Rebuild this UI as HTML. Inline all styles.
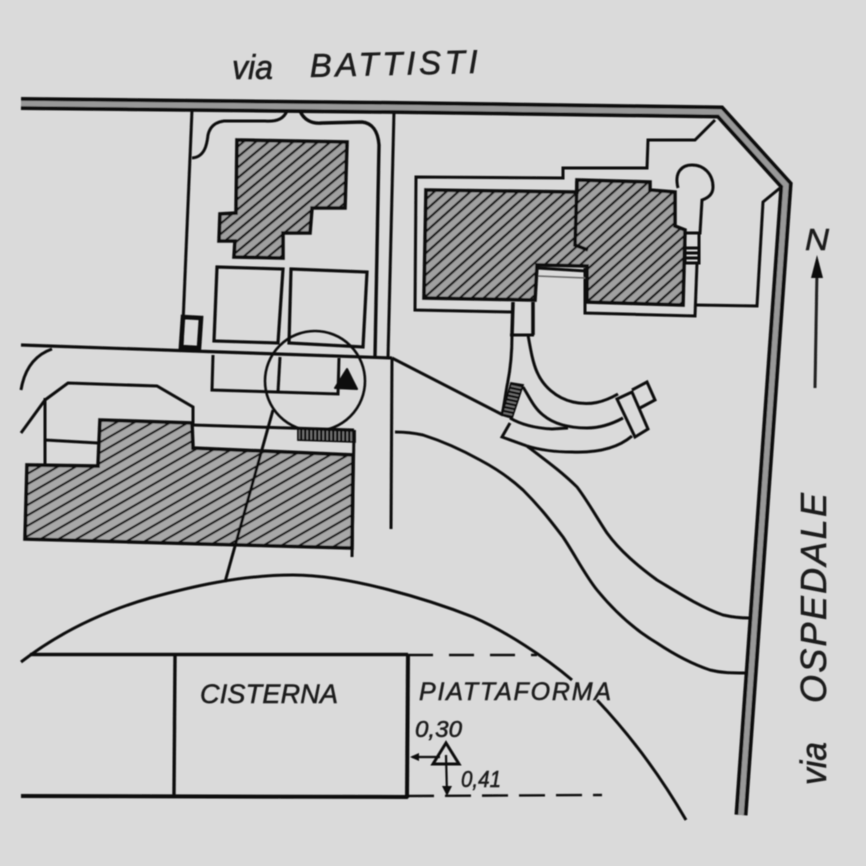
<!DOCTYPE html>
<html>
<head>
<meta charset="utf-8">
<style>
html,body{margin:0;padding:0;background:#dadada;}
svg{display:block;}
text{font-family:"Liberation Sans",sans-serif;font-style:italic;fill:#1c1c1c;stroke:#1c1c1c;stroke-width:0.55px;}
</style>
</head>
<body>
<svg width="866" height="866" viewBox="0 0 866 866" xmlns="http://www.w3.org/2000/svg">
<defs>
<pattern id="h1" patternUnits="userSpaceOnUse" width="8" height="8" patternTransform="rotate(-40)">
<rect width="8" height="8" fill="#a0a0a0"/><rect y="0" width="8" height="2.2" fill="#161616"/>
</pattern>
<pattern id="h2" patternUnits="userSpaceOnUse" width="8" height="8" patternTransform="rotate(-42)">
<rect width="8" height="8" fill="#a0a0a0"/><rect y="0" width="8" height="2.2" fill="#161616"/>
</pattern>
<pattern id="h3" patternUnits="userSpaceOnUse" width="9" height="9" patternTransform="rotate(-30)">
<rect width="9" height="9" fill="#a8a8a8"/><rect y="0" width="9" height="2.1" fill="#161616"/>
</pattern>
<pattern id="v" patternUnits="userSpaceOnUse" width="4" height="4">
<rect width="4" height="4" fill="#777"/><rect width="2.4" height="4" fill="#111"/>
</pattern>
<pattern id="s" patternUnits="userSpaceOnUse" width="4" height="4" patternTransform="rotate(12)">
<rect width="4" height="4" fill="#777"/><rect width="4" height="2.4" fill="#111"/>
</pattern>
<filter id="b" x="-2%" y="-2%" width="104%" height="104%"><feGaussianBlur stdDeviation="0.4"/></filter>
</defs>
<rect width="866" height="866" fill="#dadada"/>
<g filter="url(#b)">
<!-- roads -->
<polyline points="21,103.5 400,107.5 720,112 786,185 741,815" fill="none" stroke="#0e0e0e" stroke-width="13"/>
<polyline points="21,103.5 400,107.5 720,112 786,185 741,815" fill="none" stroke="#989898" stroke-width="5.5"/>

<g fill="none" stroke="#111" stroke-width="3" stroke-linejoin="miter">
<!-- plot 1 -->
<line x1="192" y1="110" x2="182" y2="347" stroke-width="3"/>
<path d="M192,158 C205,157 207,144 208,135 C210,126 216,122 224,121 L265,121 C278,122 284,118 287,111"/>
<path d="M300,111 C304,120 312,124 322,123 L362,122 C372,123 378,131 379,145 L375,357" stroke-width="3.4"/>
<line x1="394" y1="111" x2="388" y2="358"/>
<polygon points="217,267 283,269 278,343 214,341" stroke-width="3.2"/>
<polygon points="291,269 367,272 363,347 289,343" stroke-width="3.2"/>
<polygon points="183,317 201,318 199,348 181,347" stroke-width="4.6"/>
<line x1="21" y1="345" x2="392" y2="358" stroke-width="3.2"/>
<path d="M52,349 C32,356 24,372 21,390"/>
<polyline points="213,355 212,390 338,394 339,358"/>
<line x1="280" y1="357" x2="278" y2="392"/>
<circle cx="315" cy="381" r="50" stroke-width="2.6"/>
<!-- road lines -->
<line x1="392" y1="358" x2="391" y2="529" stroke-width="3"/>
<line x1="392" y1="358" x2="503" y2="415"/>
<path d="M395,432 C405,432 414,433 423,435 C445,442 462,450 480,460 C497,469 510,478 523,490 C540,507 550,520 563,537 C575,555 585,575 597,590 C615,612 635,630 657,643 C675,655 692,664 710,670 C722,673 732,673 745,673" stroke-width="3"/>
<path d="M527,446 C548,462 563,473 577,487 C587,500 597,518 607,533 C620,551 638,566 657,580 C677,592 700,607 723,615 C732,617 740,618 749,618" stroke-width="3"/>
<!-- east plot -->
<polyline points="715,120 695,140 648,140 647,168 563,168 563,178 416,177 415,310 512,312"/>
<polyline points="585,268 585,313 695,316 697,263"/>
<polyline points="696,305 757,306 763,202 780,188"/>
<path d="M678,188 C674,172 682,165 692,165 C704,165 713,174 713,187 C713,194 708,198 702,200 L700,233 L686,233"/>
<rect x="685" y="233" width="14" height="30"/>
<line x1="685" y1="248" x2="699" y2="248"/>
<line x1="685" y1="253" x2="699" y2="253"/>
<line x1="685" y1="258" x2="699" y2="258"/>
<line x1="537" y1="268" x2="586" y2="271"/>
<line x1="537" y1="276" x2="586" y2="278" stroke-width="1.4" stroke="#666"/>
<!-- walkway -->
<line x1="513" y1="302" x2="512" y2="335" stroke-width="3.6"/>
<line x1="533" y1="302" x2="533" y2="335" stroke-width="3.6"/>
<line x1="510" y1="335" x2="534" y2="335"/>
<path d="M512,335 C512,355 510,372 507,386 C505,398 504,406 502,415"/>
<path d="M528,335 C531,352 533,363 537,372 C543,386 556,398 573,402 C590,406 604,402 618,394"/>
<path d="M523,387 C530,398 534,408 543,415 C555,425 572,428 587,428 C600,428 612,424 623,418"/>
<path d="M510,418 C520,424 533,428 552,429 L568,428"/>
<polyline points="510,423 502,437 527,446"/>
<path d="M527,446 C540,450 555,452 572,452 C598,453 618,448 632,436"/>
<polygon points="617,399 632,392 648,429 635,437"/>
<polyline points="632,390 647,382 655,400 640,408"/>
<!-- lower plot -->
<polyline points="21,433 45,400 68,383 157,386 193,407 193,425"/>
<line x1="45" y1="398" x2="45" y2="464"/>
<line x1="45" y1="440" x2="98" y2="443"/>
<line x1="193" y1="425" x2="354" y2="430"/>
<line x1="354" y1="430" x2="352" y2="557"/>
</g>

<!-- buildings -->
<polygon points="237,140 347,142 345,208 312,208 310,233 283,233 283,258 234,257 235,241 219,241 220,214 236,213" fill="url(#h1)" stroke="#111" stroke-width="3.6"/>
<polygon points="426,190 577,192 577,180 650,182 650,190 675,192 675,226 685,230 683,305 587,302 587,266 537,265 535,300 424,298" fill="url(#h2)" stroke="#111" stroke-width="3.6"/>
<polyline points="577,181 575,245 588,250" fill="none" stroke="#111" stroke-width="3.6"/>
<polygon points="100,420 192,423 193,448 353,455 352,548 25,539 27,465 98,466" fill="url(#h3)" stroke="#111" stroke-width="3.6"/>
<line x1="273" y1="410" x2="225" y2="582" stroke="#111" stroke-width="3"/>

<polygon points="298,429 355,431 355,442 298,440" fill="url(#v)" stroke="#111" stroke-width="1.8"/>
<polygon points="511,383 523,385 512,418 502,415" fill="url(#s)" stroke="#111" stroke-width="1.8"/>
<polygon points="347,369 357,389 335,388" fill="#0c0c0c" stroke="#0c0c0c" stroke-width="2" stroke-linejoin="round"/>

<!-- cistern -->
<g fill="none" stroke="#111">
<path d="M21,662 C60,632 105,611 150,598 C190,587 240,575 293,575 C350,575 430,600 473,617 C505,631 545,657 572,680" stroke-width="3"/>
<path d="M597,700 C630,735 660,775 686,820" stroke-width="3"/>
<line x1="30" y1="654.5" x2="408" y2="654.5" stroke-width="3.6"/>
<line x1="21" y1="796" x2="408" y2="797" stroke-width="4"/>
<line x1="175" y1="655" x2="174" y2="796" stroke-width="3.4"/>
<line x1="408" y1="654" x2="407" y2="798" stroke-width="4"/>
<line x1="408" y1="655" x2="537" y2="655" stroke-width="2.4" stroke-dasharray="25,16"/>
<line x1="408" y1="796" x2="602" y2="795" stroke-width="2.4" stroke-dasharray="26,11"/>
<line x1="412" y1="757" x2="440" y2="757" stroke-width="2.2"/>
<line x1="446" y1="755" x2="447" y2="794" stroke-width="2.2"/>
<polygon points="446,743 459,764 433,764" stroke-width="3"/>
</g>
<polygon points="410,757 419,753 419,761" fill="#111"/>
<polygon points="447,796 442,786 452,786" fill="#111"/>

<!-- north arrow -->
<line x1="815" y1="388" x2="817" y2="270" stroke="#222" stroke-width="3"/>
<polygon points="817,255 823,278 811,278" fill="#0c0c0c"/>

<!-- labels -->
<text x="232" y="79" font-size="34" textLength="41" lengthAdjust="spacingAndGlyphs">via</text>
<text transform="translate(310,77) rotate(-1.4)" font-size="33" textLength="168" lengthAdjust="spacing">BATTISTI</text>
<text x="805" y="250" font-size="31" textLength="24" lengthAdjust="spacingAndGlyphs">N</text>
<text transform="translate(826,703) rotate(-90)" font-size="36" textLength="210" lengthAdjust="spacing">OSPEDALE</text>
<text transform="translate(826,785) rotate(-90)" font-size="36" textLength="43" lengthAdjust="spacingAndGlyphs">via</text>
<text x="200" y="703" font-size="27" textLength="138" lengthAdjust="spacing">CISTERNA</text>
<text x="419" y="700" font-size="25" textLength="192" lengthAdjust="spacing">PIATTAFORMA</text>
<text x="415" y="737" font-size="23" textLength="47" lengthAdjust="spacingAndGlyphs">0,30</text>
<text x="461" y="787" font-size="23" textLength="40" lengthAdjust="spacingAndGlyphs">0,41</text>
</g>
</svg>
</body>
</html>
